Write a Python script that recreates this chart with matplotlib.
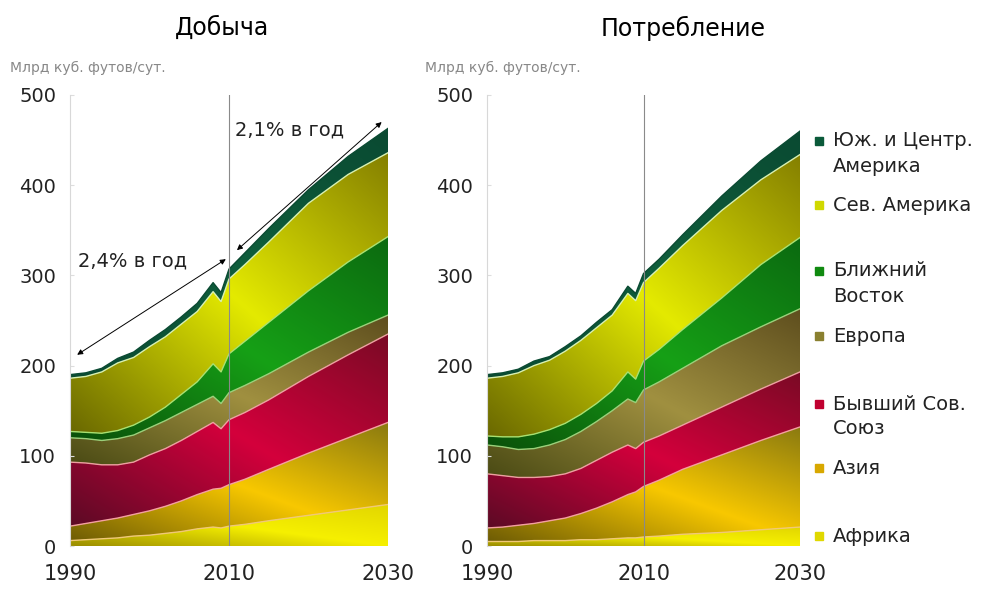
import numpy as np
import matplotlib
matplotlib.use("Agg")
import matplotlib.pyplot as plt
from matplotlib.colors import LinearSegmentedColormap
from matplotlib.patches import Rectangle

plt.rcParams['font.family'] = ['DejaVu Sans']

# годы (факт до 2009, далее прогноз)
years = [1990, 1992, 1994, 1996, 1998, 2000, 2002, 2004, 2006, 2008, 2009,
         2010, 2012, 2015, 2020, 2025, 2030]

regions = ["Африка", "Азия", "Бывший Сов.\nСоюз", "Европа",
           "Ближний\nВосток", "Сев. Америка", "Юж. и Центр.\nАмерика"]

# Добыча, млрд куб. футов/сут.
prod_africa = [6, 7, 8, 9, 11, 12, 14, 16, 19, 21, 20, 22, 24, 28, 34, 40, 46]
prod_asia = [16, 18, 20, 22, 24, 27, 30, 34, 38, 42, 44, 46, 50, 57, 69, 80, 91]
prod_fsu = [71, 67, 62, 59, 58, 62, 64, 67, 70, 74, 66, 72, 74, 77, 85, 92, 98]
prod_europe = [27, 27, 27, 29, 30, 30, 31, 31, 30, 29, 28, 30, 30, 29, 27, 25, 21]
prod_me = [7, 7, 8, 9, 11, 12, 15, 20, 25, 36, 35, 43, 49, 57, 68, 78, 87]
prod_nam = [59, 62, 68, 75, 75, 78, 78, 78, 78, 80, 78, 83, 85, 89, 97, 97, 93]
prod_sam = [4, 4, 4, 5, 6, 7, 8, 8, 9, 10, 10, 11, 13, 15, 15, 20, 27]

# Потребление, млрд куб. футов/сут.
cons_africa = [5, 5, 5, 6, 6, 6, 7, 7, 8, 9, 9, 10, 11, 13, 15, 18, 21]
cons_asia = [15, 16, 18, 19, 22, 25, 29, 35, 41, 48, 51, 56, 62, 72, 86, 99, 111]
cons_fsu = [60, 57, 53, 51, 49, 49, 50, 53, 55, 55, 48, 49, 49, 49, 53, 57, 61]
cons_europe = [32, 32, 31, 32, 35, 38, 41, 43, 46, 51, 51, 58, 60, 63, 68, 69, 70]
cons_me = [10, 11, 14, 16, 17, 18, 19, 20, 22, 30, 26, 32, 36, 43, 53, 69, 79]
cons_nam = [64, 67, 71, 76, 77, 80, 82, 84, 84, 87, 87, 87, 90, 93, 97, 94, 92]
cons_sam = [4, 4, 4, 5, 4, 5, 5, 6, 6, 8, 8, 10, 10, 12, 16, 21, 26]

production = [prod_africa, prod_asia, prod_fsu, prod_europe, prod_me, prod_nam, prod_sam]
consumption = [cons_africa, cons_asia, cons_fsu, cons_europe, cons_me, cons_nam, cons_sam]

# градиент: (тёмный снизу-слева, яркий в середине, тёмный сверху-справа), линия верхней границы
band_styles = [
    (("#9a8c00", "#f6f000", "#e2d600"), "#f0c878"),
    (("#6e5c05", "#f8c800", "#8a7a10"), "#f4a0a0"),
    (("#5c0a25", "#d4003c", "#7a0a25"), "#eca0a0"),
    (("#4a4a14", "#a09040", "#5e4e1e"), "#9ad07a"),
    (("#0a500a", "#16a016", "#0b6a10"), "#a8e070"),
    (("#6a6800", "#e4ea00", "#858000"), "#d8f0b0"),
    (("#0a4a32", "#0f5e3c", "#0a4a32"), "#0a4a32"),
]
legend_colors = ["#e0d800", "#d8a800", "#c00030", "#8a8030", "#108a10", "#d0d800", "#0b5a3a"]


def gradient_band(ax, x, lower, upper, stops, edge):
    poly = ax.fill_between(x, lower, upper, facecolor='none', edgecolor='none')
    ymin, ymax = min(lower), max(upper)
    X, Y = np.meshgrid(np.linspace(0, 1, 300), np.linspace(0, 1, 300))
    s = (X + Y) / 2
    cmap = LinearSegmentedColormap.from_list('band', stops)
    im = ax.imshow(s, cmap=cmap, vmin=0, vmax=1, origin='lower',
                   extent=[x[0], x[-1], ymin, ymax], aspect='auto',
                   interpolation='bilinear', zorder=1)
    im.set_clip_path(poly.get_paths()[0], transform=ax.transData)
    ax.plot(x, upper, color=edge, lw=1, zorder=2)


def stacked_panel(ax, series):
    lower = np.zeros(len(years))
    for vals, (stops, edge) in zip(series, band_styles):
        upper = lower + np.array(vals)
        gradient_band(ax, years, lower, upper, stops, edge)
        lower = upper
    ax.axvline(2010, color='#8a8a8a', lw=0.8, zorder=5)
    ax.set_xlim(1990, 2030)
    ax.set_ylim(0, 500)
    for sp in ['top', 'right', 'bottom']:
        ax.spines[sp].set_visible(False)
    ax.spines['left'].set_color('#d8d8d8')
    ax.spines['left'].set_linewidth(0.8)
    ax.set_yticks([0, 100, 200, 300, 400, 500])
    ax.set_xticks([1990, 2010, 2030])
    ax.tick_params(axis='y', labelsize=14, direction='in', length=3,
                   color='#dddddd', pad=10, labelcolor='#222222')
    ax.tick_params(axis='x', labelsize=15, length=0, pad=13, labelcolor='#222222')


fig = plt.figure(figsize=(9.87, 5.89), dpi=100)
ax1 = fig.add_axes([70 / 987, 43 / 589, 318 / 987, 451 / 589])
ax2 = fig.add_axes([487 / 987, 43 / 589, 313 / 987, 451 / 589])

stacked_panel(ax1, production)
stacked_panel(ax2, consumption)

# стрелки темпов роста
arrow = dict(arrowstyle='<|-|>', color='black', lw=0.7, mutation_scale=8,
             shrinkA=0, shrinkB=0)
ax1.annotate('', xy=(1990.9, 212), xytext=(2009.6, 318), arrowprops=arrow, zorder=6)
ax1.annotate('', xy=(2011.0, 328), xytext=(2029.2, 470), arrowprops=arrow, zorder=6)
ax1.text(1991, 316, "2,4% в год", fontsize=14, va='center', ha='left', color='#222222')
ax1.text(2010.8, 461, "2,1% в год", fontsize=14, va='center', ha='left', color='#222222')

fig.text(222 / 987, 1 - 28 / 589, "Добыча", fontsize=17, ha='center', va='center')
fig.text(683 / 987, 1 - 28 / 589, "Потребление", fontsize=17, ha='center', va='center')
fig.text(10 / 987, 1 - 68 / 589, "Млрд куб. футов/сут.", fontsize=10,
         color='#888888', va='center')
fig.text(425 / 987, 1 - 68 / 589, "Млрд куб. футов/сут.", fontsize=10,
         color='#888888', va='center')

# легенда справа: y центра первой строки (px от верха)
legend_y = [536, 468, 404, 336, 271, 205, 141]
line_step = 25
for name, col, py in zip(regions, legend_colors, legend_y):
    fig.add_artist(Rectangle((815 / 987, 1 - (py + 4) / 589), 8 / 987, 8 / 589,
                             transform=fig.transFigure, color=col))
    for i, line in enumerate(name.split("\n")):
        fig.text(833 / 987, 1 - (py + i * line_step) / 589, line, fontsize=14,
                 va='center', ha='left', color='#222222')

fig.savefig("out.png", dpi=100)
